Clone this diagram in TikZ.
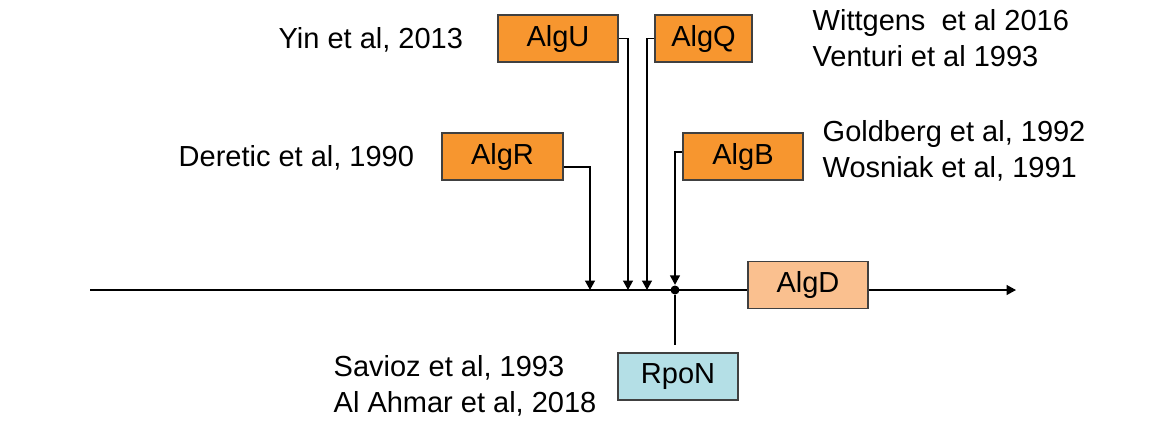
\documentclass[tikz,border=0pt]{standalone}
\usepackage{fontspec}
\setmainfont{Liberation Sans}
\usetikzlibrary{arrows.meta}

\definecolor{genorange}{HTML}{F7962F}
\definecolor{genpeach}{HTML}{FAC08F}
\definecolor{gencyan}{HTML}{B4DFE6}
\definecolor{boxline}{HTML}{404040}

\tikzset{
  gene/.style={draw=boxline, line width=0.8pt, inner sep=0pt,
    minimum width=2.4cm, minimum height=0.94cm,
    font=\fontsize{16.5}{20}\selectfont},
  ref/.style={anchor=west, align=left, inner sep=0pt,
    font=\fontsize{16.5}{20.5}\selectfont},
  arr/.style={-{Triangle[width=0.2cm,length=0.19cm]}}
}

\begin{document}
\begin{tikzpicture}[x=0.02cm, y=-0.02cm, line width=0.8pt]
\useasboundingbox (0,0) rectangle (1162,424);

\coordinate (start) at (90,290);
\coordinate (end) at (1016,290);
\coordinate (pr) at (590,290);
\coordinate (pu) at (628,290);
\coordinate (pq) at (647,290);
\coordinate (rtop) at (675,345);

\node[gene, fill=genpeach] (algd) at (808,285) {AlgD};
\draw (start) -- (start -| algd.west);
\draw[arr] (start -| algd.east) -- (end);

\node[gene, fill=genorange] (algu) at (558,38.5) {AlgU};
\node[gene, fill=genorange, minimum width=1.94cm] (algq) at (703.5,38.5) {AlgQ};
\node[gene, fill=genorange, minimum width=2.42cm] (algr) at (502.5,156.5) {AlgR};
\node[gene, fill=genorange] (algb) at (743,156.5) {AlgB};
\node[gene, fill=gencyan] (rpon) at (678,376.5) {RpoN};
\node[circle, fill, inner sep=0pt, minimum size=0.18cm] (hub) at (675,290) {};

\draw[arr] ([yshift=-0.21cm]algr.east) -| (pr);
\draw[arr] (algu.east) -| (pu);
\draw[arr] (algq.west) -| (pq);
\draw[arr] ([yshift=0.09cm]algb.west) -| (hub.north);
\draw (hub) -- (rtop);

\node[ref] (yin) at (278,40) {Yin et al, 2013};
\node[ref] (witt) at (812,38.5) {Wittgens\ \ et al 2016\\Venturi et al 1993};
\node[ref] (der) at (178,158) {Deretic et al, 1990};
\node[ref] (gold) at (822,150.5) {Goldberg et al, 1992\\Wosniak et al, 1991};
\node[ref] (sav) at (333,386) {Savioz et al, 1993\\Al Ahmar et al, 2018};
\end{tikzpicture}
\end{document}
